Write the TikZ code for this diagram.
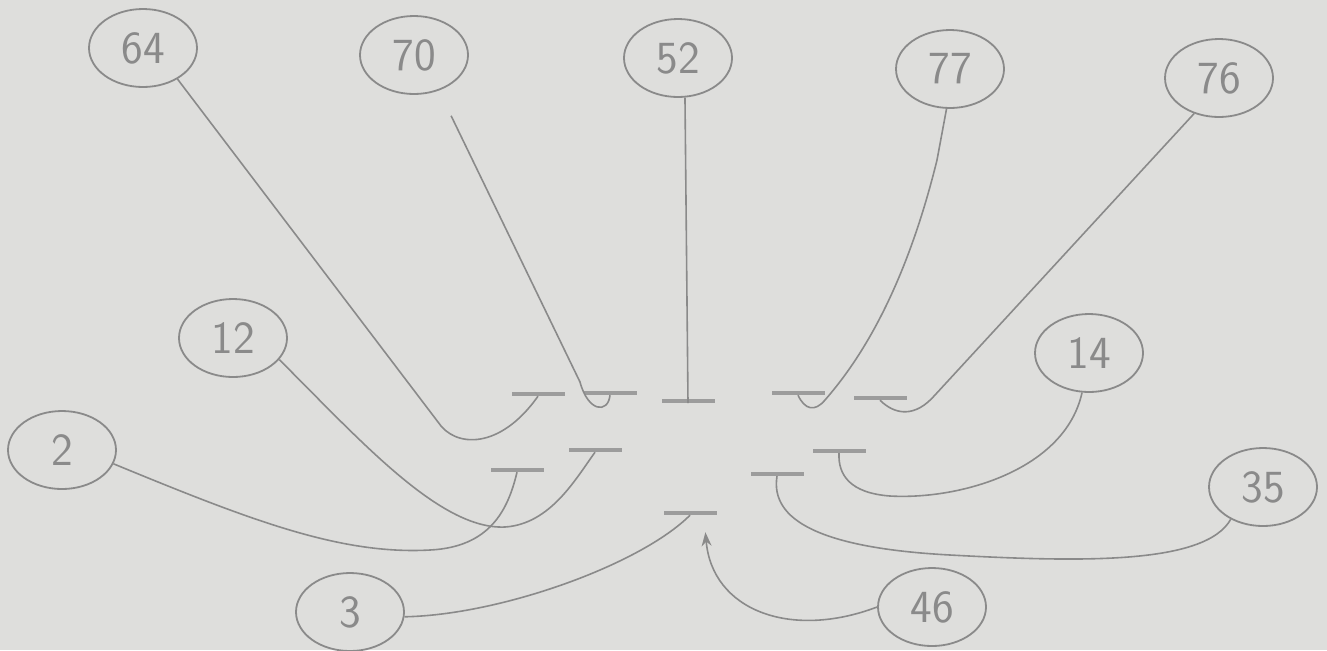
\documentclass[tikz,border=0pt]{standalone}
\usepackage{tikz}
\usetikzlibrary{arrows,arrows.meta,calc,positioning,shapes}
\definecolor{paper}{RGB}{222,222,220}
\definecolor{pencil}{RGB}{138,138,138}
\tikzstyle{bubble}=[
  draw=pencil,
  ellipse,
  font={\sffamily\fontsize{23}{23}\selectfont},
  text=pencil,
  inner sep=0pt,
  line width=0.9pt,
  minimum height=39pt,
  minimum width=54pt,
]
\tikzstyle{dashmark}=[
  draw=pencil!85,
  fill=pencil!85,
  inner sep=0pt,
  minimum height=1.8pt,
  minimum width=26pt,
  rectangle,
]
\tikzstyle{link}=[
  color=pencil,
  draw=pencil,
  line width=0.8pt,
]
\tikzset{
  >={Stealth[length=7pt,width=5pt]},
}

\begin{document}
\begin{tikzpicture}[x=0.5pt,y=-0.5pt]
  \fill [paper] (0,0) rectangle (1327,650);
  \useasboundingbox (0,0) rectangle (1327,650);
  %% numbered bubbles
  \node (n64) [bubble] at (143,48) {64};
  \node (n70) [bubble] at (414,55) {70};
  \node (n52) [bubble] at (678,58) {52};
  \node (n77) [bubble] at (950,69) {77};
  \node (n76) [bubble] at (1219,78) {76};
  \node (n12) [bubble] at (233,338) {12};
  \node (n14) [bubble] at (1089,353) {14};
  \node (n2) [bubble] at (62,450) {2};
  \node (n35) [bubble] at (1263,487) {35};
  \node (n3) [bubble] at (350,612) {3};
  \node (n46) [bubble] at (932,607) {46};
  %% pencil marks
  \node (m64) [dashmark] at (538,394) {};
  \node (m70) [dashmark] at (610,393) {};
  \node (m52) [dashmark] at (688,401) {};
  \node (m77) [dashmark] at (798,393) {};
  \node (m76) [dashmark] at (880,398) {};
  \node (m12) [dashmark] at (595,450) {};
  \node (m2) [dashmark] at (517,470) {};
  \node (m14) [dashmark] at (839,451) {};
  \node (m35) [dashmark] at (777,474) {};
  \node (m3) [dashmark] at (690,513) {};
  \coordinate (h46) at ($(m3.south east)+(-11,17)$);
  %% connectors
  \draw [link] (n64.-42) -- (438,422)
    .. controls (455,448) and (500,450) .. (m64.south);
  \draw [link, shorten <=14pt] (n70.-55) -- (580,382)
    .. controls (588,412) and (608,414) .. (m70.south);
  \draw [link] (n52.-80) -- (m52.south);
  \draw [link] (n77.-95) -- (937,160)
    .. controls (905,290) and (860,360) .. (825,400)
    .. controls (815,412) and (805,410) .. (m77.south);
  \draw [link] (n76.-125) -- (935,395)
    .. controls (915,418) and (895,415) .. (m76.south);
  \draw [link] (n12.-25) .. controls (360,440) and (440,530) .. (505,527)
    .. controls (550,524) and (575,480) .. (m12.south);
  \draw [link] (n2.-15) .. controls (250,520) and (340,555) .. (430,550)
    .. controls (490,547) and (508,510) .. (m2.south);
  \draw [link] (n14.-100) .. controls (1065,470) and (960,500) .. (890,496)
    .. controls (850,493) and (838,475) .. (m14.south);
  \draw [link] (n35.-135) .. controls (1205,565) and (1080,562) .. (950,555)
    .. controls (820,548) and (770,520) .. (m35.south);
  \draw [link] (n3.-5) .. controls (500,615) and (640,565) .. (m3.south);
  \draw [->, link] (n46.west) .. controls (790,640) and (712,610) .. (h46);
\end{tikzpicture}
\end{document}
